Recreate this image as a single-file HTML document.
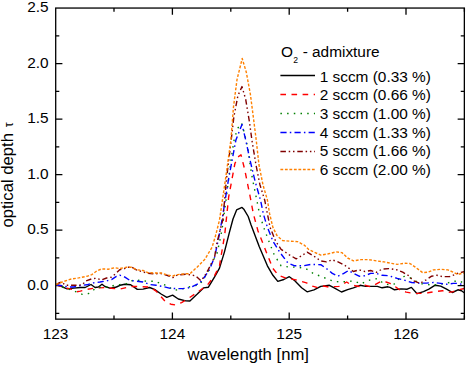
<!DOCTYPE html>
<html><head><meta charset="utf-8"><title>optical depth</title>
<style>
html,body{margin:0;padding:0;background:#fff;}
body{width:466px;height:365px;overflow:hidden;font-family:"Liberation Sans",sans-serif;}
svg{display:block;}
text{font-family:"Liberation Sans",sans-serif;fill:#000;}
</style></head><body>
<svg width="466" height="365" viewBox="0 0 466 365">
<rect x="0" y="0" width="466" height="365" fill="#ffffff"/>
<defs><clipPath id="c"><rect x="55.7" y="8.05" width="408.65000000000003" height="311.09999999999997"/></clipPath></defs>
<path d="M114.0,319.15 v-3.6 M114.0,8.05 v3.6 M172.4,319.15 v-6.7 M172.4,8.05 v6.7 M230.8,319.15 v-3.6 M230.8,8.05 v3.6 M289.2,319.15 v-6.7 M289.2,8.05 v6.7 M347.6,319.15 v-3.6 M347.6,8.05 v3.6 M406.0,319.15 v-6.7 M406.0,8.05 v6.7 M464.4,319.15 v-3.6 M464.4,8.05 v3.6 M55.7,313.3 h3.6 M464.35,313.3 h-3.6 M55.7,285.6 h6.7 M464.35,285.6 h-6.7 M55.7,257.8 h3.6 M464.35,257.8 h-3.6 M55.7,230.1 h6.7 M464.35,230.1 h-6.7 M55.7,202.3 h3.6 M464.35,202.3 h-3.6 M55.7,174.6 h6.7 M464.35,174.6 h-6.7 M55.7,146.8 h3.6 M464.35,146.8 h-3.6 M55.7,119.1 h6.7 M464.35,119.1 h-6.7 M55.7,91.3 h3.6 M464.35,91.3 h-3.6 M55.7,63.6 h6.7 M464.35,63.6 h-6.7 M55.7,35.8 h3.6 M464.35,35.8 h-3.6" stroke="#000" stroke-width="1.3" fill="none"/>
<g clip-path="url(#c)" fill="none" stroke-linejoin="round">
<polyline points="56.0,284.8 60.6,286.1 67.1,288.9 73.7,288.1 80.3,287.5 85.2,287.5 91.0,284.5 95.1,287.5 98.4,287.0 102.0,284.2 104.9,286.5 110.7,288.3 116.4,287.0 120.0,285.3 124.9,284.2 130.7,284.8 137.3,289.4 143.0,289.1 149.6,287.5 154.5,289.4 161.1,294.0 166.8,297.3 172.6,295.2 178.3,299.0 185.7,300.9 189.9,301.0 197.3,294.1 203.5,287.9 208.4,287.2 214.6,276.8 219.5,268.1 224.4,252.1 229.4,232.3 233.0,219.0 236.6,209.9 242.0,207.4 244.1,209.6 248.2,216.5 251.0,224.7 259.2,246.6 267.4,265.8 272.9,275.3 277.8,281.4 283.8,279.5 289.3,276.7 294.8,280.8 301.6,287.7 307.1,291.8 314.0,289.9 320.8,286.4 329.4,285.3 334.2,287.8 341.5,292.0 347.6,289.7 353.4,287.8 360.1,285.3 365.8,286.4 372.6,286.4 377.4,286.4 382.1,287.8 387.9,286.8 390.0,287.4 394.5,289.8 400.9,288.9 407.2,289.2 411.4,287.4 417.1,293.7 423.5,291.6 428.9,289.2 435.2,285.2 440.7,286.1 446.1,288.9 452.4,292.5 457.9,289.8 461.5,290.7 464.2,292.8" stroke="#000000" stroke-width="1.4"/>
<polyline points="56.0,284.8 62.2,286.5 67.1,288.3 72.1,289.4 76.2,291.9 80.3,291.1 86.9,289.4 95.1,288.1 106.6,287.5 111.5,288.3 119.7,289.1 126.6,287.5 132.3,286.5 137.3,286.5 149.6,287.0 156.1,291.1 161.1,296.8 165.2,301.3 170.9,304.2 175.9,305.0 181.6,302.6 187.4,299.0 194.8,294.1 207.2,285.4 214.6,275.6 219.5,265.7 222.2,249.6 224.7,234.8 228.7,196.8 234.9,163.5 238.0,157.0 241.0,154.8 244.7,169.6 249.7,194.3 253.4,214.0 258.0,231.0 267.4,254.8 272.9,268.5 278.4,275.3 286.6,278.3 294.8,279.6 301.5,281.5 306.5,282.9 312.6,286.2 317.6,287.6 321.0,286.6 324.0,286.0 328.6,287.0 334.2,286.6 339.0,286.4 346.7,282.0 349.5,283.9 355.3,285.8 361.0,286.8 364.9,285.3 370.6,286.8 381.2,281.4 386.0,282.0 390.0,283.4 395.4,286.7 400.9,290.7 406.3,292.1 413.5,293.4 420.8,293.4 428.0,292.8 435.2,291.6 442.5,290.7 447.9,292.5 453.3,291.6 458.8,289.8 464.2,288.5" stroke="#ff0000" stroke-width="1.4" stroke-dasharray="5.6 5.5"/>
<polyline points="56.0,284.8 62.2,287.0 69.6,289.4 76.2,291.9 82.3,294.4 88.8,293.5 95.9,288.1 102.5,287.0 109.9,287.0 115.6,284.8 120.0,284.5 126.6,283.7 129.9,281.2 135.6,279.9 141.4,280.9 147.9,281.2 155.0,281.2 161.9,284.2 167.6,285.8 173.4,290.3 180.0,289.5 185.7,288.1 189.9,286.7 199.8,284.7 207.2,273.1 212.0,263.0 217.0,253.3 219.5,242.2 222.0,229.9 226.0,200.0 231.3,157.6 234.4,138.2 238.0,128.0 241.5,123.1 243.3,128.9 245.3,137.1 248.0,149.0 249.7,162.0 252.1,177.0 254.6,189.4 257.1,201.7 259.5,213.7 263.7,227.4 268.8,241.1 274.2,254.8 281.1,265.8 289.3,267.1 297.5,267.1 305.8,268.5 314.0,274.0 320.8,276.2 327.5,279.1 334.2,281.4 340.9,282.0 347.6,281.4 354.3,281.0 361.0,283.9 366.8,281.0 372.6,279.1 377.4,278.7 384.1,283.9 389.8,284.9 395.4,283.8 400.0,277.1 406.3,276.2 412.6,278.9 419.0,283.4 432.5,285.2 446.1,283.4 452.4,281.6 458.8,280.7 464.2,283.4" stroke="#008000" stroke-width="1.4" stroke-dasharray="1.5 5.2"/>
<polyline points="56.0,284.8 62.2,285.8 68.8,287.0 73.7,287.0 78.6,285.8 86.9,284.8 93.4,282.9 100.0,282.0 106.6,280.9 111.5,279.6 116.4,276.3 119.7,275.1 124.9,277.1 129.9,280.4 136.4,281.2 143.0,282.0 149.6,284.5 156.1,285.3 162.7,286.5 169.3,288.1 175.9,288.6 182.4,288.6 187.0,288.2 192.3,286.7 199.8,283.0 204.7,276.8 209.6,269.4 214.6,257.0 218.3,239.8 222.0,220.0 228.4,180.0 235.9,140.0 242.0,124.5 245.7,140.0 250.0,160.0 255.0,181.0 260.5,200.0 263.3,213.7 267.4,227.4 272.9,241.1 279.7,252.1 287.9,263.0 294.8,265.8 303.0,265.8 311.2,264.4 320.8,264.7 326.5,268.6 332.3,273.4 338.0,276.2 343.8,273.4 348.6,270.5 353.4,273.4 359.1,276.2 364.9,275.7 370.6,273.4 376.4,273.4 382.1,275.3 388.9,275.7 397.2,278.4 404.5,280.2 411.7,282.5 419.0,283.1 426.2,283.1 433.4,282.5 440.7,283.4 446.1,284.3 453.3,283.4 458.8,283.4 464.2,285.2" stroke="#0000ff" stroke-width="1.4" stroke-dasharray="6.2 3.2 1.5 3.2"/>
<polyline points="56.0,284.8 58.0,283.5 61.4,282.0 65.5,285.3 70.4,285.3 78.0,285.3 82.8,284.5 85.2,281.2 91.8,278.8 96.7,278.3 101.6,280.0 106.6,278.0 111.5,277.1 116.4,273.0 119.7,269.7 124.0,268.9 126.6,267.3 131.5,267.0 136.4,270.0 141.4,271.4 147.9,273.3 154.5,273.8 161.1,273.5 167.6,275.5 172.9,277.6 177.5,275.0 185.7,274.3 189.9,274.8 195.5,275.8 201.0,280.8 205.0,275.5 208.4,269.4 214.6,257.0 217.1,242.2 220.8,227.4 222.8,220.0 226.4,180.0 231.2,140.0 233.9,116.7 237.9,95.7 242.0,86.6 245.7,99.4 249.4,121.6 251.9,140.0 256.0,165.0 260.0,185.0 264.7,200.0 267.4,213.7 270.1,227.4 275.6,241.1 281.1,249.3 289.3,254.8 296.2,258.9 303.0,254.8 307.1,252.1 314.0,256.2 320.8,260.9 326.5,261.9 332.3,259.9 338.0,261.9 343.8,264.7 349.5,268.6 353.4,271.5 359.1,269.9 364.9,271.5 370.6,270.5 376.4,272.4 382.1,269.1 388.9,268.6 397.2,269.9 402.7,272.2 408.1,275.3 413.5,280.7 419.9,283.4 426.2,279.8 431.6,276.2 437.0,275.3 442.5,276.6 449.7,276.6 455.1,274.4 459.7,272.6 464.2,271.7" stroke="#800000" stroke-width="1.4" stroke-dasharray="5.5 2.8 1.5 2.8 1.5 2.8"/>
<polyline points="56.0,284.5 62.2,282.0 70.4,279.2 78.6,277.9 86.9,276.3 91.8,274.6 96.7,271.0 101.6,268.9 108.2,269.2 114.8,267.7 119.7,268.6 124.0,267.7 126.6,267.3 131.5,267.3 136.4,269.7 143.0,270.5 147.9,272.7 154.5,273.0 161.1,273.0 167.6,275.0 172.6,276.0 177.5,274.6 185.7,273.8 189.9,273.8 197.3,266.9 204.7,259.5 212.1,247.2 215.8,234.8 219.5,220.0 225.4,180.0 230.9,140.0 233.5,106.8 237.0,79.6 242.2,58.5 246.3,72.2 250.4,94.4 253.9,121.6 256.2,140.0 259.0,165.0 263.0,185.0 267.4,200.0 269.6,213.7 272.9,227.4 277.0,235.6 282.5,240.5 289.3,241.1 297.5,241.6 304.4,245.2 308.5,249.3 314.0,252.1 320.8,255.1 328.4,253.8 336.1,251.9 341.9,252.6 347.6,258.0 353.4,260.9 361.0,259.6 368.7,259.6 376.4,260.9 384.1,261.9 391.7,263.4 397.2,264.4 404.5,263.2 409.9,263.5 415.3,267.1 422.6,272.6 428.0,272.2 433.4,269.9 440.7,269.3 447.9,269.9 453.3,272.2 457.9,274.4 464.2,272.9" stroke="#ff8000" stroke-width="1.4" stroke-dasharray="2.8 1.7"/>
</g>
<rect x="55.7" y="8.05" width="408.65000000000003" height="311.09999999999997" fill="none" stroke="#000" stroke-width="1.3"/>
<text x="55.6" y="339.2" font-size="15.4" text-anchor="middle">123</text>
<text x="172.4" y="339.2" font-size="15.4" text-anchor="middle">124</text>
<text x="289.2" y="339.2" font-size="15.4" text-anchor="middle">125</text>
<text x="406.0" y="339.2" font-size="15.4" text-anchor="middle">126</text>
<text x="48.7" y="289.9" font-size="15.4" text-anchor="end">0.0</text>
<text x="48.7" y="234.4" font-size="15.4" text-anchor="end">0.5</text>
<text x="48.7" y="178.9" font-size="15.4" text-anchor="end">1.0</text>
<text x="48.7" y="123.4" font-size="15.4" text-anchor="end">1.5</text>
<text x="48.7" y="67.9" font-size="15.4" text-anchor="end">2.0</text>
<text x="48.7" y="12.4" font-size="15.4" text-anchor="end">2.5</text>
<text x="248.2" y="360.4" font-size="16.7" text-anchor="middle">wavelength [nm]</text>
<text transform="translate(13.4,227.6) rotate(-90)" font-size="16.7">optical depth <tspan font-size="12.5" dx="1">τ</tspan></text>
<text x="281" y="57.2" font-size="15.4">O<tspan font-size="8.6" dy="5.4" dx="0.2">2</tspan><tspan dy="-5.4" dx="0.4"> - admixture</tspan></text>
<line x1="280.4" y1="75.5" x2="315" y2="75.5" stroke="#000000" stroke-width="1.4"/>
<text x="319.7" y="81.7" font-size="15.4">1 sccm (0.33 %)</text>
<line x1="280.4" y1="94.5" x2="315" y2="94.5" stroke="#ff0000" stroke-width="1.4" stroke-dasharray="5.6 5.5"/>
<text x="319.7" y="100.3" font-size="15.4">2 sccm (0.66 %)</text>
<line x1="280.4" y1="113.5" x2="315" y2="113.5" stroke="#008000" stroke-width="1.4" stroke-dasharray="1.5 5.2"/>
<text x="319.7" y="119.0" font-size="15.4">3 sccm (1.00 %)</text>
<line x1="280.4" y1="132.5" x2="315" y2="132.5" stroke="#0000ff" stroke-width="1.4" stroke-dasharray="6.2 3.2 1.5 3.2"/>
<text x="319.7" y="137.7" font-size="15.4">4 sccm (1.33 %)</text>
<line x1="280.4" y1="151.5" x2="315" y2="151.5" stroke="#800000" stroke-width="1.4" stroke-dasharray="5.5 2.8 1.5 2.8 1.5 2.8"/>
<text x="319.7" y="156.3" font-size="15.4">5 sccm (1.66 %)</text>
<line x1="280.4" y1="169.5" x2="315" y2="169.5" stroke="#ff8000" stroke-width="1.4" stroke-dasharray="2.8 1.7"/>
<text x="319.7" y="174.9" font-size="15.4">6 sccm (2.00 %)</text>
</svg>
</body></html>
